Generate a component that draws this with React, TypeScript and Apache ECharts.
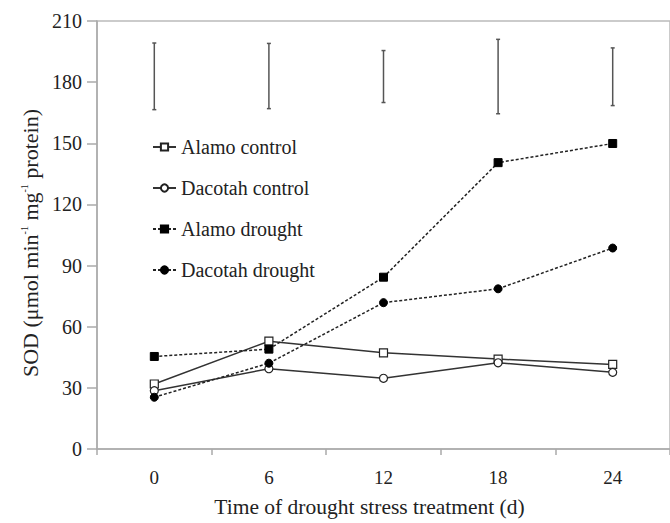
import React, { useEffect, useRef } from "react";
import * as echarts from "echarts";

const days = ["0", "6", "12", "18", "24"];
const alamoControl = [31.9, 52.9, 47.2, 44.1, 41.5];
const dacotahControl = [28.6, 39.4, 34.7, 42.3, 37.6];
const alamoDrought = [45.4, 49.0, 84.3, 140.5, 149.9];
const dacotahDrought = [25.4, 42.1, 71.8, 78.6, 98.6];
const errLow = [166.5, 167, 170, 164.5, 168.5];
const errHigh = [199.2, 199, 195.5, 201, 196.8];

const FONT = "Liberation Serif";

export default function App() {
  const ref = useRef<HTMLDivElement>(null);
  useEffect(() => {
    document.body.style.margin = "0";
    const chart = echarts.init(ref.current!, null, { renderer: "svg" });
    const openItem = { color: "#fff", borderColor: "#222", borderWidth: 1.2 };
    const filledItem = { color: "#000", borderColor: "#000", borderWidth: 1 };
    chart.setOption({
      animation: false,
      backgroundColor: "#fff",
      grid: {
        left: 97,
        top: 21,
        width: 575,
        height: 430,
        show: true,
        borderColor: "#bbb",
        borderWidth: 1.5,
      },
      legend: {
        orient: "vertical",
        left: 152,
        top: 137,
        padding: 0,
        itemWidth: 23,
        itemHeight: 9,
        itemGap: 21,
        textStyle: { fontFamily: FONT, fontSize: 20, color: "#222" },
        data: ["Alamo control", "Dacotah control", "Alamo drought", "Dacotah drought"],
      },
      xAxis: {
        type: "category",
        data: days,
        boundaryGap: true,
        name: "Time of drought stress treatment (d)",
        nameLocation: "middle",
        nameGap: 47,
        nameTextStyle: { fontFamily: FONT, fontSize: 21.5, color: "#222", padding: [0, 28, 0, 0] },
        axisLine: { lineStyle: { color: "#aaa", width: 1.5 } },
        axisTick: { show: true, length: 6, lineStyle: { color: "#aaa", width: 1.5 } },
        axisLabel: { fontFamily: FONT, fontSize: 19, color: "#222", margin: 19 },
        splitLine: { show: false },
      },
      yAxis: {
        type: "value",
        min: 0,
        max: 210,
        interval: 30,
        name: "SOD (μmol min{s|-1} mg{s|-1} protein)",
        nameLocation: "middle",
        nameGap: 55,
        nameTextStyle: {
          fontFamily: FONT,
          fontSize: 22,
          color: "#222",
          padding: [0, 16, 0, 0],
          rich: { s: { fontFamily: FONT, fontSize: 10, color: "#222", verticalAlign: "top", padding: [0, 0, 9, 0] } },
        },
        axisLine: { show: true, lineStyle: { color: "#aaa", width: 1.5 } },
        axisTick: { show: true, length: 10, lineStyle: { color: "#aaa", width: 1.5 } },
        axisLabel: { fontFamily: FONT, fontSize: 20, color: "#222", margin: 15 },
        splitLine: { show: false },
      },
      series: [
        {
          name: "Alamo control",
          type: "line",
          data: alamoControl,
          symbol: "rect",
          symbolSize: 8,
          lineStyle: { color: "#333", width: 1.5, type: "solid" },
          itemStyle: openItem,
          z: 3,
        },
        {
          name: "Dacotah control",
          type: "line",
          data: dacotahControl,
          symbol: "circle",
          symbolSize: 8,
          lineStyle: { color: "#333", width: 1.5, type: "solid" },
          itemStyle: openItem,
          z: 3,
        },
        {
          name: "Alamo drought",
          type: "line",
          data: alamoDrought,
          symbol: "rect",
          symbolSize: 8,
          lineStyle: { color: "#222", width: 1.5, type: [3, 2] },
          itemStyle: filledItem,
          z: 4,
        },
        {
          name: "Dacotah drought",
          type: "line",
          data: dacotahDrought,
          symbol: "circle",
          symbolSize: 8,
          lineStyle: { color: "#222", width: 1.5, type: [3, 2] },
          itemStyle: filledItem,
          z: 4,
        },
        {
          name: "error",
          type: "custom",
          data: days.map((d, i) => [i, errLow[i], errHigh[i]]),
          renderItem: (params: any, api: any) => {
            const lo = api.coord([api.value(0), api.value(1)]);
            const hi = api.coord([api.value(0), api.value(2)]);
            const x = lo[0];
            const st = { stroke: "#555", lineWidth: 1.5 };
            return {
              type: "group",
              children: [
                { type: "line", shape: { x1: x, y1: hi[1], x2: x, y2: lo[1] }, style: st },
                { type: "line", shape: { x1: x - 2, y1: hi[1], x2: x + 2, y2: hi[1] }, style: st },
                { type: "line", shape: { x1: x - 2, y1: lo[1], x2: x + 2, y2: lo[1] }, style: st },
              ],
            };
          },
          z: 2,
        },
      ],
    });
    return () => chart.dispose();
  }, []);
  return <div ref={ref} style={{ width: 670, height: 523 }} />;
}
